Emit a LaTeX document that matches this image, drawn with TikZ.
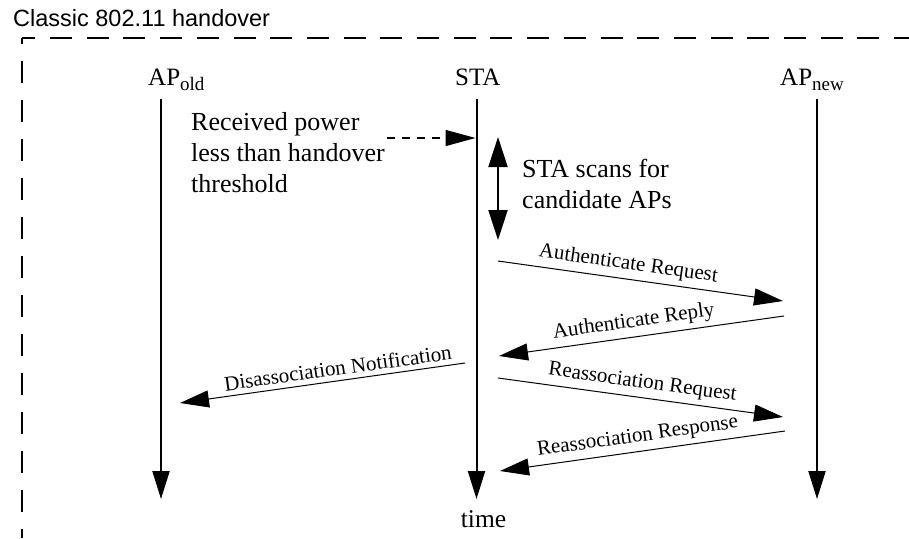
\documentclass[tikz,border=0pt]{standalone}
\usepackage{fontspec}
\setmainfont{Liberation Serif}
\newfontfamily\titlefont{Liberation Sans}
\usepackage{tikz}
\usetikzlibrary{arrows.meta, positioning}
\newcommand{\lowidx}[1]{\raisebox{-5.5pt}{\fontsize{19}{19}\selectfont #1}}

\begin{document}
\begin{tikzpicture}[x=1pt, y=-1pt,
    entity/.style={anchor=base west, inner sep=0pt, font=\fontsize{25}{30}\selectfont},
    note/.style={anchor=base west, inner sep=0pt, align=left, font=\fontsize{26}{31}\selectfont},
    lifeline/.style={line width=2pt, -{Triangle[length=28pt, width=17pt]}},
    scanarrow/.style={line width=2pt, {Triangle[length=30pt, width=19pt]}-{Triangle[length=30pt, width=19pt]}},
    trigger/.style={line width=1.3pt, dash pattern=on 8pt off 7pt, -{Triangle[length=30pt, width=16pt]}},
    msg/.style={line width=1pt, -{Triangle[length=29pt, width=17pt]}},
    msglabel/.style={sloped, above=1.5pt, font=\fontsize{21}{25}\selectfont}]
    \useasboundingbox (0,0) rectangle (909,538);

    % title and dashed frame
    \node[anchor=base west, inner sep=0pt, font=\titlefont\fontsize{23.5}{28}\selectfont]
        (title) at (13,27) {Classic 802.11 handover};
    \coordinate (corner) at (22,38);
    \draw[line width=2pt, dash pattern=on 22pt off 14.7pt, dash phase=8.7pt] (corner) -- (909,38);
    \draw[line width=2pt, dash pattern=on 22pt off 17pt, dash phase=16pt] (corner) -- (22,538);

    % participants
    \node[entity] (apold) at (148,85) {AP\lowidx{old}};
    \node[entity] (sta) at (455,85) {STA};
    \node[entity] (apnew) at (780,85) {AP\lowidx{new}};

    \coordinate (apold top) at (161,99);
    \coordinate (apold end) at (161,499);
    \coordinate (sta top) at (476.5,99);
    \coordinate (sta end) at (476.5,499);
    \coordinate (apnew top) at (817,99);
    \coordinate (apnew end) at (817,499);

    \draw[lifeline] (apold top) -- (apold end);
    \draw[lifeline] (sta top) -- (sta end);
    \draw[lifeline] (apnew top) -- (apnew end);

    \node[anchor=base, inner sep=0pt, font=\fontsize{25.5}{30}\selectfont] (time) at (483.5,527) {time};

    % trigger and scan (base = last line)
    \node[note] (power) at (191,192) {Received power\\less than handover\\threshold};
    \coordinate (power end) at (387,138);
    \coordinate (sta power) at (475.5,138);
    \draw[trigger] (power end) -- (sta power);

    \coordinate (scan top) at (498,137);
    \coordinate (scan end) at (498,240);
    \draw[scanarrow] (scan top) -- (scan end);
    \node[note] (scan) at (522,208) {STA scans for\\candidate APs};

    % messages
    \coordinate (sta m1) at (498,261);
    \coordinate (apnew m1) at (783,301);
    \coordinate (apnew m2) at (784,316);
    \coordinate (sta m2) at (499,356);
    \coordinate (sta m3) at (465,363);
    \coordinate (apold m3) at (180,403);
    \coordinate (sta m4) at (498,378);
    \coordinate (apnew m4) at (783,417);
    \coordinate (apnew m5) at (785,431);
    \coordinate (sta m5) at (500,471);

    \draw[msg] (sta m1) -- node[msglabel, pos=0.45] {Authenticate Request} (apnew m1);
    \draw[msg] (apnew m2) -- node[msglabel, pos=0.52] {Authenticate Reply} (sta m2);
    \draw[msg] (sta m3) -- node[msglabel, pos=0.44] {Disassociation Notification} (apold m3);
    \draw[msg] (sta m4) -- node[msglabel, pos=0.5] {Reassociation Request} (apnew m4);
    \draw[msg] (apnew m5) -- node[msglabel, pos=0.51] {Reassociation Response} (sta m5);
\end{tikzpicture}
\end{document}
